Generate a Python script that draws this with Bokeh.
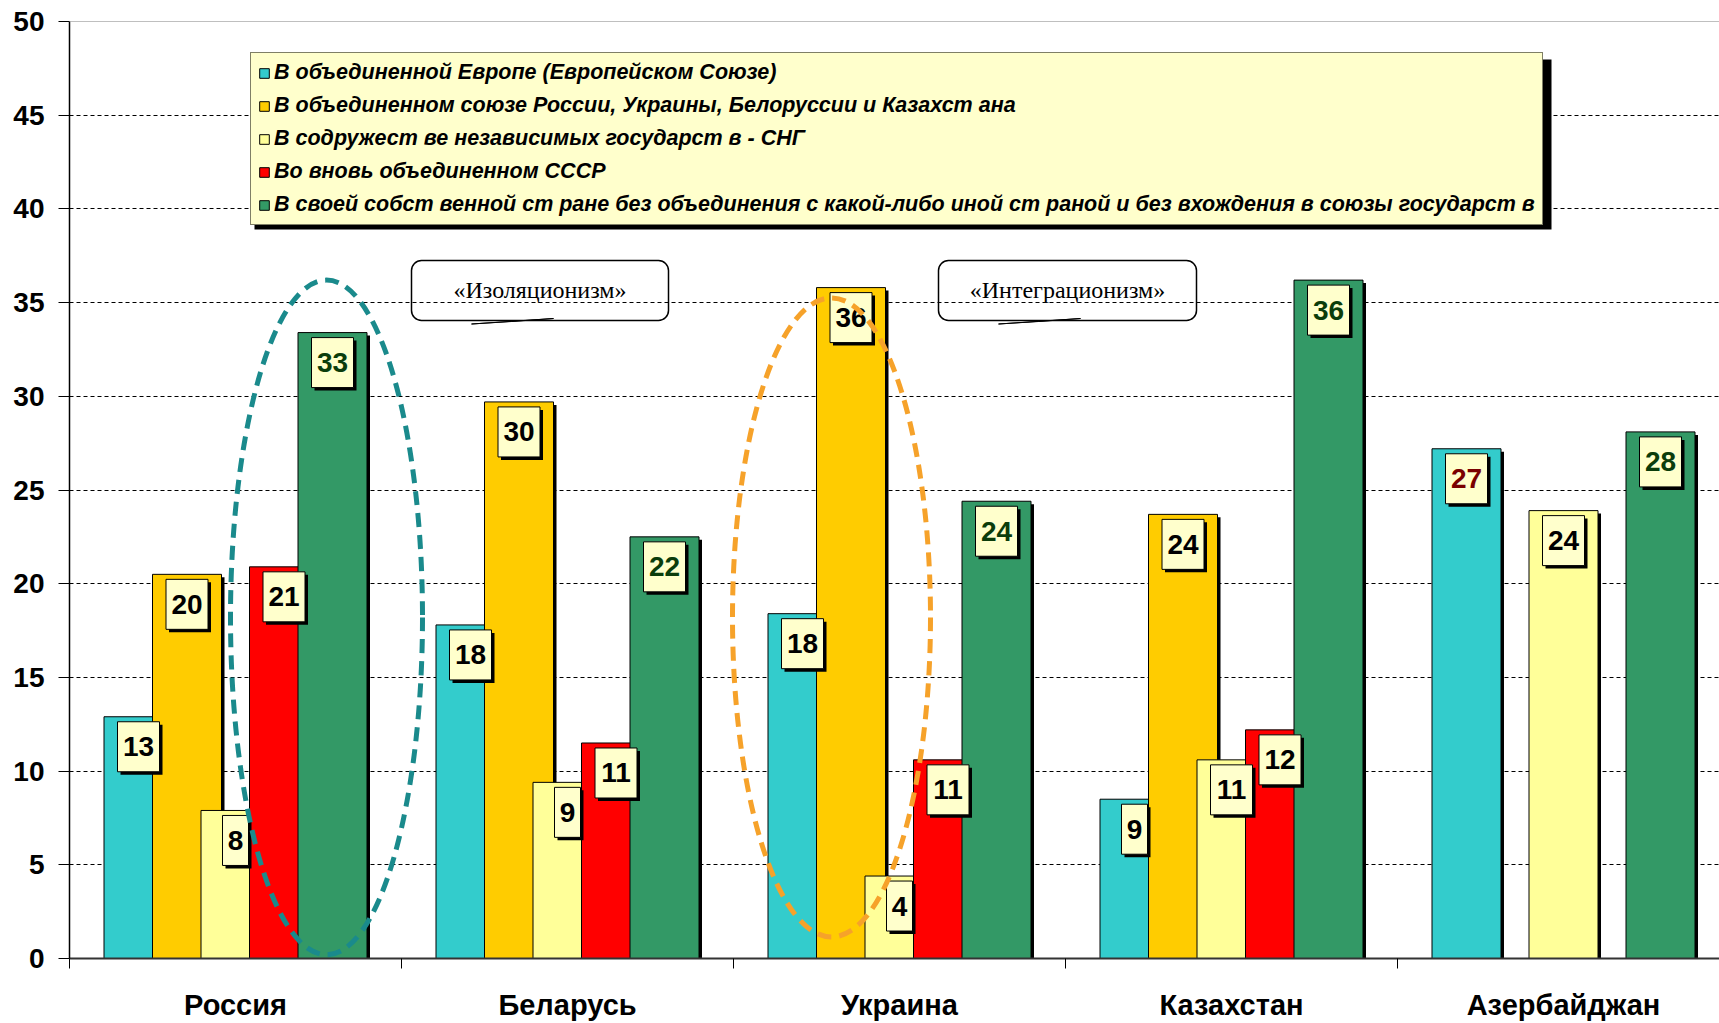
from bokeh.plotting import figure
from bokeh.models import (Range1d, FixedTicker, Legend, LegendItem, Span, BoxAnnotation,
                          Label, CustomJSTickFormatter, ColumnDataSource)
from bokeh.embed import file_html
from bokeh.resources import INLINE
from bokeh.core.properties import value

# ---------------- data ----------------
countries = ["Россия", "Беларусь", "Украина", "Казахстан", "Азербайджан"]

series_names = [
    "В объединенной Европе (Европейском Союзе)",
    "В объединенном союзе России, Украины, Белоруссии и Казахст ана",
    "В содружест ве независимых государст в - СНГ",
    "Во вновь объединенном СССР",
    "В своей собст венной ст ране без объединения с какой-либо иной ст раной и без вхождения в союзы государст в",
]

eu_values    = [12.9, 17.8, 18.4, 8.5, 27.2]
union_values = [20.5, 29.7, 35.8, 23.7, None]
cis_values   = [7.9, 9.4, 4.4, 10.6, 23.9]
ussr_values  = [20.9, 11.5, 10.6, 12.2, None]
own_values   = [33.4, 22.5, 24.4, 36.2, 28.1]

eu_labels    = ["13", "18", "18", "9", "27"]
union_labels = ["20", "30", "36", "24", None]
cis_labels   = ["8", "9", "4", "11", "24"]
ussr_labels  = ["21", "11", "11", "12", None]
own_labels   = ["33", "22", "24", "36", "28"]

y_ticks = [0, 5, 10, 15, 20, 25, 30, 35, 40, 45, 50]

callout_texts = ["«Изоляционизм»", "«Интеграционизм»"]

# ---------------- styles / layout ----------------
colors = ["#33CCCC", "#FFCC00", "#FFFF99", "#FF0000", "#339966"]
label_text_colors = [
    ["black", "black", "black", "black", "#7A0000"],
    ["black"] * 5,
    ["black"] * 5,
    ["black"] * 5,
    ["#0B3D0B"] * 5,
]
W, H = 1719, 1023
BL, BT, BB, BR = 69, 21, 65, 0
FRAME_W = W - BL - BR
FRAME_H = H - BT - BB
CAT_PX = 332.0
X_END = FRAME_W / CAT_PX
PXY = FRAME_H / 50.0          # px per y unit
SPACING = 48.5 / CAT_PX       # distance between series within a group
BAR_W = 69.0 / CAT_PX
SHX = 3.0 / CAT_PX
SHY = 3.0 / PXY

def px_x(px):   # page px -> x data
    return (px - BL) / CAT_PX

def px_y(py):   # page px -> y data
    return (BT + FRAME_H - py) / PXY

NUM_FONT = "Liberation Sans"

p = figure(width=W, height=H, output_backend="svg", toolbar_location=None,
           x_range=Range1d(0, X_END), y_range=Range1d(0, 50),
           min_border_left=BL, min_border_top=BT, min_border_bottom=BB, min_border_right=BR)
p.outline_line_color = None
p.background_fill_color = "white"
p.border_fill_color = "white"

# grid
p.xgrid.visible = False
p.ygrid.ticker = FixedTicker(ticks=y_ticks[1:-1])
p.ygrid.grid_line_color = "black"
p.ygrid.grid_line_dash = "4 3"
p.ygrid.grid_line_width = 1
p.add_layout(Span(location=50, dimension="width", line_color="#808080", line_width=1))

# y axis
p.yaxis.ticker = FixedTicker(ticks=y_ticks)
p.yaxis.minor_tick_line_color = None
p.yaxis.major_tick_out = 11
p.yaxis.major_tick_in = 0
p.yaxis.major_label_standoff = 14
p.yaxis.major_label_text_font = NUM_FONT
p.yaxis.major_label_text_font_size = "28px"
p.yaxis.major_label_text_font_style = "bold"
p.yaxis.major_label_text_color = "black"
p.yaxis.axis_line_color = "black"
p.yaxis.axis_line_width = 1.5

# x axis
p.xaxis.ticker = FixedTicker(ticks=[i + 0.5 for i in range(len(countries))],
                             minor_ticks=list(range(len(countries) + 1)))
p.xaxis.formatter = CustomJSTickFormatter(args=dict(names=countries),
                                          code="return names[Math.floor(tick)];")
p.xaxis.major_tick_line_color = None
p.xaxis.major_tick_out = 0
p.xaxis.minor_tick_out = 10
p.xaxis.minor_tick_in = 0
p.xaxis.minor_tick_line_color = "black"
p.xaxis.axis_line_color = "#333333"
p.xaxis.axis_line_width = 2
p.xaxis.major_label_standoff = 20
p.xaxis.major_label_text_font = NUM_FONT
p.xaxis.major_label_text_font_size = "29px"
p.xaxis.major_label_text_font_style = "bold"
p.xaxis.major_label_text_color = "black"

# bars
all_values = [eu_values, union_values, cis_values, ussr_values, own_values]
all_labels = [eu_labels, union_labels, cis_labels, ussr_labels, own_labels]
bar_renderers = []
for k, vals in enumerate(all_values):
    xs, tops = [], []
    for i, v in enumerate(vals):
        if v is not None:
            xs.append(i + 0.5 + (k - 2) * SPACING)
            tops.append(v)
    p.vbar(x=[x + SHX for x in xs], top=[t - SHY for t in tops], width=BAR_W,
           fill_color="black", line_color=None)
    r = p.vbar(x=xs, top=tops, width=BAR_W, fill_color=colors[k],
               line_color="black", line_width=1)
    bar_renderers.append(r)

# data labels
for k, (vals, labs) in enumerate(zip(all_values, all_labels)):
    xs, ys, texts, widths, tcols = [], [], [], [], []
    for i, (v, t) in enumerate(zip(vals, labs)):
        if v is None:
            continue
        xs.append(i + 0.5 + (k - 2) * SPACING)
        ys.append(v - 30.0 / PXY)
        texts.append(t)
        widths.append(26 if len(t) == 1 else 42)
        tcols.append(label_text_colors[k][i])
    src = ColumnDataSource(dict(x=xs, y=ys, t=texts, w=widths, c=tcols,
                                xs=[x + SHX for x in xs], ys=[y - SHY for y in ys]))
    p.rect(x="xs", y="ys", width="w", height=50, width_units="screen", height_units="screen",
           source=src, fill_color="black", line_color=None)
    p.rect(x="x", y="y", width="w", height=50, width_units="screen", height_units="screen",
           source=src, fill_color="#FFFFCC", line_color="black", line_width=1)
    p.text(x="x", y="y", text="t", source=src, text_align="center", text_baseline="middle",
           text_font=value(NUM_FONT), text_font_size="28px", text_font_style="bold",
           text_color="c")

# ellipses
p.ellipse(x=[px_x(326)], y=[18.2], width=[192 / CAT_PX], height=[36.0],
          fill_color=None, line_color="#1A8A8C", line_width=5, line_dash="14 8")
p.ellipse(x=[px_x(831)], y=[18.2], width=[198 / CAT_PX], height=[34.1],
          fill_color=None, line_color="#F6A22A", line_width=5, line_dash="14 8")

# callouts
for (l, r), txt in zip([(411, 668), (938, 1196)], callout_texts):
    p.add_layout(BoxAnnotation(left=px_x(l), right=px_x(r), top=px_y(260), bottom=px_y(320),
                               fill_alpha=0, fill_color=None, line_color="black", line_alpha=1,
                               line_width=1.5, border_radius=10))
    p.patch(x=[px_x(l + 60), px_x(l + 142), px_x(l + 100)],
            y=[px_y(323.5), px_y(318), px_y(321)], fill_color="black", line_color="black",
            line_width=1)
    p.add_layout(Label(x=px_x((l + r) / 2), y=px_y(289), text=txt, text_align="center",
                       text_baseline="middle", text_font="Liberation Serif",
                       text_font_size="24px", text_color="black"))

# legend shadow
p.quad(left=[px_x(254)], right=[px_x(1551)], top=[px_y(59)], bottom=[px_y(229)],
       fill_color="black", line_color=None)

legend = Legend(items=[LegendItem(label=n, renderers=[r]) for n, r in zip(series_names, bar_renderers)],
                location=(250 - BL, BT + FRAME_H - 225),
                orientation="vertical", padding=7, spacing=8, label_height=22,
                glyph_height=12, glyph_width=12, label_standoff=4, margin=0,
                background_fill_color="#FFFFCC", background_fill_alpha=1,
                border_line_color="black", border_line_width=1.5,
                label_text_font=NUM_FONT, label_text_font_size="21.5px",
                label_text_font_style="bold italic", label_text_color="black")
p.add_layout(legend)

open("out.html", "w").write(file_html(p, INLINE))
